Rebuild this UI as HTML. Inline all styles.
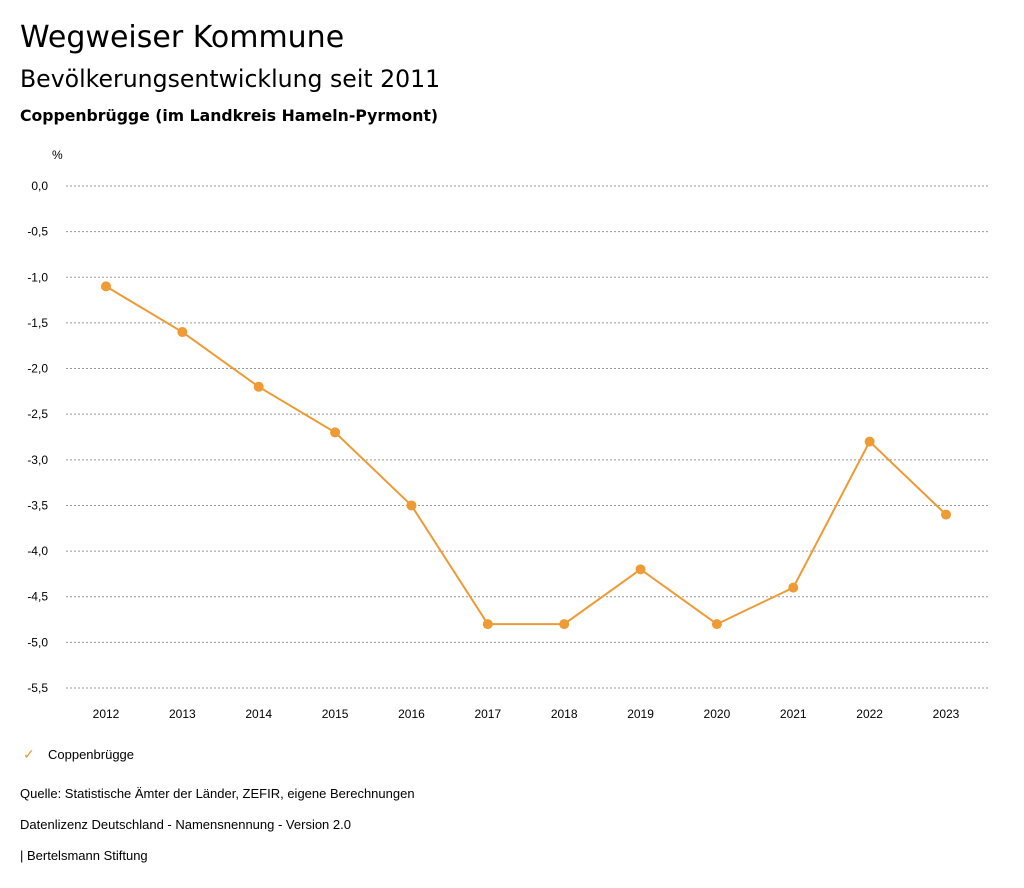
<!DOCTYPE html>
<html><head><meta charset="utf-8"><style>
body{margin:0;width:1024px;height:888px;background:#fff;font-family:"Liberation Sans",sans-serif;color:#000;position:relative;overflow:hidden}
.t{position:absolute;left:20px;white-space:nowrap}
.d{font-family:"DejaVu Sans",sans-serif}
</style></head><body>
<div class="t d" style="top:20px;font-size:30px">Wegweiser Kommune</div>
<div class="t d" style="top:65px;font-size:23.6px">Bevölkerungsentwicklung seit 2011</div>
<div class="t d" style="top:106px;font-size:15.7px;font-weight:bold">Coppenbrügge (im Landkreis Hameln-Pyrmont)</div>
<svg id="chart" width="1024" height="888" style="position:absolute;left:0;top:0" font-family="Liberation Sans, sans-serif"></svg>
<div class="t" style="top:746px;left:23px;font-size:13px"><span style="color:#ee9a35;font-size:14px;display:inline-block;width:25px">✓</span>Coppenbrügge</div>
<div class="t" style="top:786px;font-size:13px">Quelle: Statistische Ämter der Länder, ZEFIR, eigene Berechnungen</div>
<div class="t" style="top:817px;font-size:13px">Datenlizenz Deutschland - Namensnennung - Version 2.0</div>
<div class="t" style="top:848px;font-size:13px">| Bertelsmann Stiftung</div>
<script>
const years=["2012","2013","2014","2015","2016","2017","2018","2019","2020","2021","2022","2023"];
const values=[-1.1,-1.6,-2.2,-2.7,-3.5,-4.8,-4.8,-4.2,-4.8,-4.4,-2.8,-3.6];
const yTicks=[0,-0.5,-1,-1.5,-2,-2.5,-3,-3.5,-4,-4.5,-5,-5.5];
const svg=document.getElementById('chart');const NS='http://www.w3.org/2000/svg';
function x(i){return 106+i*(946-106)/(years.length-1);}
function y(v){return 186+(0-v)/5.5*(688-186);}
function mk(t,a){const e=document.createElementNS(NS,t);for(const k in a)e.setAttribute(k,a[k]);svg.appendChild(e);return e;}
let u=mk('text',{x:52,y:159,'font-size':12});u.textContent='%';


yTicks.forEach(v=>{
 const l=mk('line',{x1:66,x2:990,y1:y(v),y2:y(v),stroke:'#999','stroke-dasharray':'2,2','stroke-width':1});
 
 
 const t=mk('text',{x:48,y:y(v)+4,'font-size':12,'text-anchor':'end'});t.textContent=v.toFixed(1).replace('.',',').replace('-0,0','0,0');
 
 
});
years.forEach((yr,i)=>{const t=mk('text',{x:x(i),y:718,'font-size':12,'text-anchor':'middle'});t.textContent=yr;
 
 });
const p=mk('polyline',{points:values.map((v,i)=>x(i)+','+y(v)).join(' '),fill:'none',stroke:'#ee9a35','stroke-width':2});


values.forEach((v,i)=>{const c=mk('circle',{cx:x(i),cy:y(v),r:5,fill:'#ee9a35'});
 
 });
</script>
</body></html>
